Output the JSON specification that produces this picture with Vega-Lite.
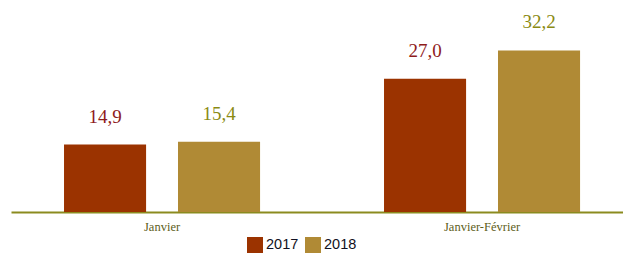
{
  "$schema": "https://vega.github.io/schema/vega-lite/v6.json",
  "width": 612,
  "height": 211,
  "padding": {"left": 11, "top": 1, "right": 0, "bottom": 0},
  "background": "white",
  "config": {"view": {"stroke": null}},
  "data": {"values": [
    {"periode": "Janvier", "annee": "2017", "valeur": 14.9, "label": "14,9"},
    {"periode": "Janvier", "annee": "2018", "valeur": 15.4, "label": "15,4"},
    {"periode": "Janvier-Février", "annee": "2017", "valeur": 27.0, "label": "27,0"},
    {"periode": "Janvier-Février", "annee": "2018", "valeur": 32.2, "label": "32,2"}
  ]},
  "encoding": {
    "x": {
      "field": "periode", "type": "nominal", "sort": ["Janvier", "Janvier-Février"],
      "scale": {"paddingInner": 0.2, "paddingOuter": 0.05625, "align": 0.64},
      "axis": {"title": null, "labelAngle": 0, "ticks": false, "domainColor": "#8B8B1F", "domainWidth": 2, "labelFont": "Liberation Serif", "labelFontSize": 12.5, "labelColor": "#5E5E1A", "labelPadding": 8}
    },
    "xOffset": {"field": "annee", "type": "nominal", "scale": {"paddingInner": 0.28, "paddingOuter": 0.263}},
    "y": {"field": "valeur", "type": "quantitative", "scale": {"domain": [2.5, 41.3], "zero": false}, "axis": null}
  },
  "layer": [
    {
      "mark": {"type": "bar"},
      "encoding": {
        "y2": {"datum": 2.5},
        "color": {
          "field": "annee", "type": "nominal",
          "scale": {"domain": ["2017", "2018"], "range": ["#9B3300", "#B08A35"]},
          "legend": {"orient": "none", "legendX": 236, "legendY": 236, "direction": "horizontal", "title": null, "symbolType": "square", "symbolSize": 256, "symbolStrokeWidth": 0, "symbolOpacity": 1, "labelFont": "Liberation Sans", "labelFontSize": 14.5, "labelColor": "#111122", "labelOffset": 3, "columnPadding": 6, "padding": 0}
        }
      }
    },
    {
      "mark": {"type": "text", "dy": -22, "baseline": "alphabetic", "font": "Liberation Serif", "fontSize": 19},
      "encoding": {
        "text": {"field": "label"},
        "color": {"condition": {"test": "datum.annee === '2017'", "value": "#8E1B1B"}, "value": "#8A8A12"}
      }
    }
  ]
}
